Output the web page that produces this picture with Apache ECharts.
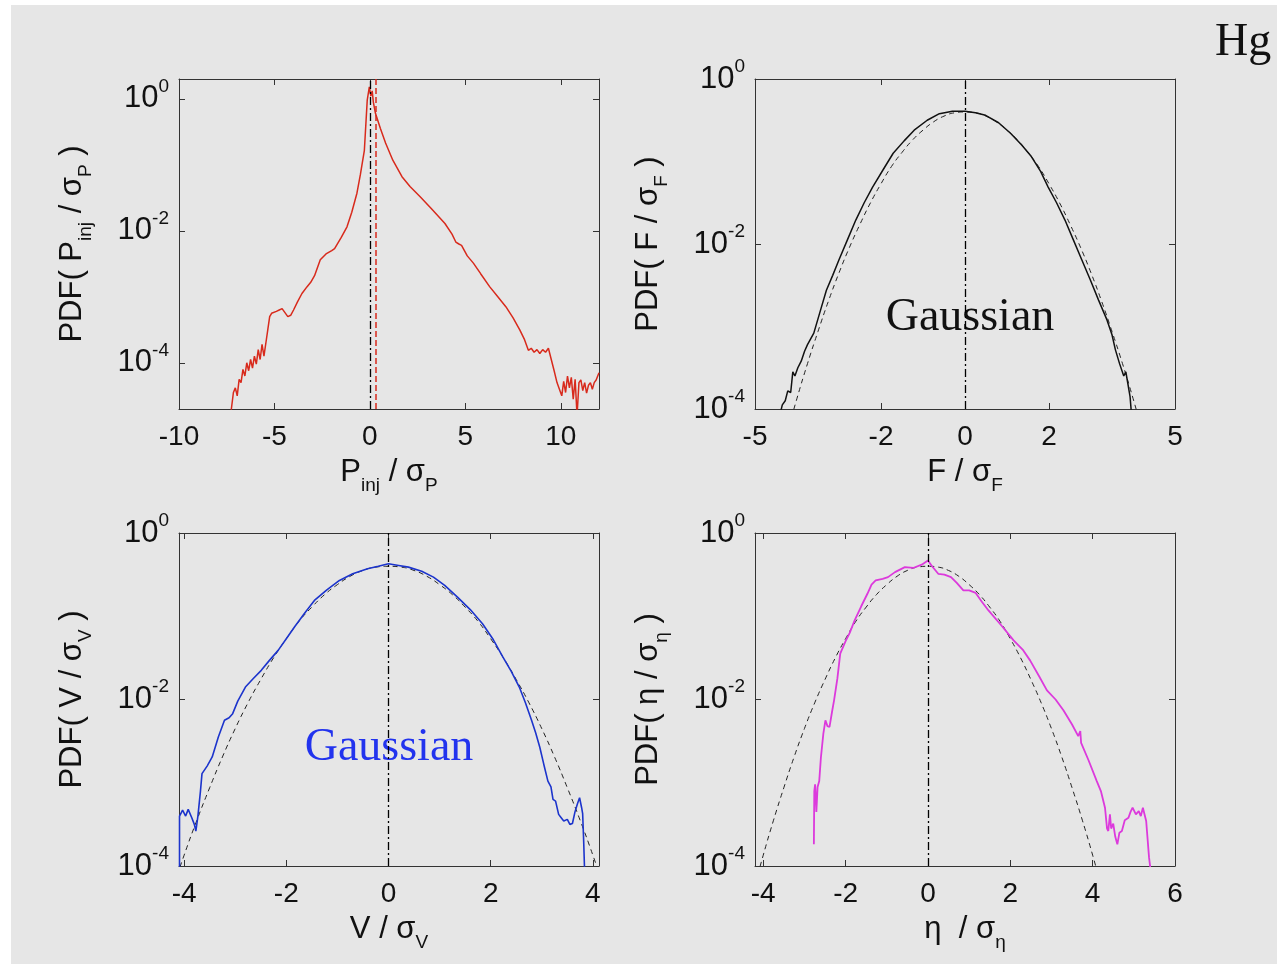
<!DOCTYPE html>
<html>
<head>
<meta charset="utf-8">
<script src="https://cdn.jsdelivr.net/npm/echarts@6/dist/echarts.min.js"></script>
<style>
  html, body { margin: 0; padding: 0; background: #fff; }
  #bg { position: absolute; left: 11px; top: 5px; width: 1266px; height: 959px; background: #e6e6e6; }
  #chart { position: absolute; left: 0; top: 0; width: 1277px; height: 964px; }
</style>
</head>
<body>
<div id="bg"></div>
<div id="chart"></div>
<script>
// all curves: [x / sigma, log10(PDF)]
var pinjCurve = [
  [-7.3,-4.8],[-7.15,-4.45],[-7.05,-4.38],[-6.95,-4.5],[-6.85,-4.25],[-6.75,-4.3],[-6.65,-4.1],[-6.55,-4.2],
  [-6.45,-4.0],[-6.35,-4.12],[-6.25,-3.95],[-6.15,-4.08],[-6.05,-3.9],[-5.95,-4.02],[-5.85,-3.8],[-5.75,-3.95],
  [-5.65,-3.72],[-5.55,-3.9],[-5.45,-3.7],[-5.35,-3.5],[-5.25,-3.3],[-5.15,-3.25],[-5.05,-3.28],[-4.9,-3.22],
  [-4.75,-3.2],[-4.6,-3.18],[-4.45,-3.24],[-4.3,-3.3],[-4.15,-3.28],[-4.0,-3.2],[-3.8,-3.08],[-3.56,-2.95],
  [-3.3,-2.85],[-3.1,-2.78],[-2.9,-2.68],[-2.6,-2.44],[-2.3,-2.35],[-2.0,-2.3],[-1.85,-2.27],[-1.5,-2.1],
  [-1.2,-1.94],[-0.95,-1.72],[-0.68,-1.43],[-0.5,-1.15],[-0.29,-0.78],[-0.14,-0.02],[-0.03,0.18],[0.05,0.04],
  [0.12,0.12],[0.18,-0.05],[0.29,-0.22],[0.55,-0.45],[0.82,-0.67],[1.2,-0.93],[1.68,-1.18],[2.1,-1.33],
  [2.62,-1.48],[3.2,-1.66],[3.93,-1.89],[4.3,-2.05],[4.5,-2.17],[4.66,-2.2],[4.8,-2.22],[5.1,-2.38],
  [5.42,-2.49],[5.8,-2.65],[6.28,-2.85],[6.7,-3.0],[7.12,-3.15],[7.5,-3.32],[7.85,-3.5],[8.1,-3.65],
  [8.3,-3.81],[8.45,-3.78],[8.6,-3.84],[8.75,-3.8],[8.9,-3.86],[9.05,-3.8],[9.2,-3.84],[9.35,-3.78],
  [9.5,-3.95],[9.65,-4.12],[9.8,-4.3],[9.95,-4.42],[10.05,-4.5],[10.15,-4.28],[10.25,-4.45],[10.35,-4.2],
  [10.45,-4.38],[10.55,-4.22],[10.65,-4.55],[10.75,-4.25],[10.85,-4.8],[10.95,-4.3],[11.05,-4.26],[11.15,-4.42],
  [11.25,-4.3],[11.35,-4.46],[11.45,-4.34],[11.55,-4.3],[11.65,-4.4],[11.75,-4.3],[11.85,-4.26],[12.0,-4.15]
];
var forceCurve = [
  [-4.42,-4.1],[-4.35,-3.95],[-4.28,-3.9],[-4.22,-3.78],[-4.15,-3.8],[-4.1,-3.55],[-4.05,-3.6],[-3.98,-3.5],
  [-3.9,-3.42],[-3.82,-3.3],[-3.75,-3.22],[-3.6,-3.08],[-3.45,-2.82],[-3.3,-2.56],[-3.15,-2.38],[-3.0,-2.19],
  [-2.8,-1.95],[-2.6,-1.71],[-2.4,-1.5],[-2.2,-1.31],[-1.95,-1.1],[-1.71,-0.9],[-1.45,-0.75],[-1.21,-0.62],
  [-0.9,-0.5],[-0.61,-0.42],[-0.3,-0.39],[0,-0.39],[0.25,-0.41],[0.49,-0.44],[0.8,-0.53],[1.09,-0.66],
  [1.35,-0.8],[1.58,-0.94],[1.8,-1.12],[1.98,-1.31],[2.18,-1.5],[2.38,-1.71],[2.58,-1.95],[2.78,-2.19],
  [2.98,-2.43],[3.18,-2.68],[3.38,-2.92],[3.5,-3.1],[3.58,-3.28],[3.68,-3.45],[3.78,-3.6],[3.83,-3.55],
  [3.88,-3.7],[3.93,-3.85],[3.97,-4.1]
];
var velocityCurve = [
  [-4.09,-4.1],[-4.09,-3.4],[-4.03,-3.33],[-3.97,-3.4],[-3.92,-3.32],[-3.85,-3.42],[-3.8,-3.5],[-3.77,-3.58],
  [-3.73,-3.4],[-3.68,-3.1],[-3.65,-2.89],[-3.55,-2.8],[-3.45,-2.69],[-3.33,-2.45],[-3.21,-2.25],[-3.12,-2.22],
  [-3.05,-2.17],[-2.95,-2.02],[-2.8,-1.85],[-2.65,-1.75],[-2.49,-1.65],[-2.33,-1.53],[-2.16,-1.41],[-2.0,-1.27],
  [-1.84,-1.13],[-1.65,-0.97],[-1.45,-0.81],[-1.2,-0.68],[-0.96,-0.57],[-0.7,-0.49],[-0.41,-0.43],[-0.2,-0.4],
  [0,-0.37],[0.2,-0.39],[0.39,-0.41],[0.65,-0.46],[0.88,-0.53],[1.1,-0.63],[1.35,-0.77],[1.6,-0.92],
  [1.84,-1.09],[2.05,-1.28],[2.24,-1.49],[2.4,-1.66],[2.56,-1.85],[2.68,-2.04],[2.8,-2.25],[2.88,-2.4],
  [2.96,-2.57],[3.04,-2.78],[3.12,-2.98],[3.18,-3.05],[3.22,-3.2],[3.27,-3.22],[3.33,-3.38],[3.38,-3.42],
  [3.43,-3.46],[3.5,-3.44],[3.55,-3.5],[3.6,-3.49],[3.65,-3.35],[3.7,-3.25],[3.74,-3.18],[3.78,-3.3],
  [3.8,-3.37],[3.82,-3.7],[3.84,-4.1]
];
var etaCurve = [
  [-2.77,-3.74],[-2.76,-3.1],[-2.74,-3.02],[-2.71,-3.35],[-2.68,-3.05],[-2.64,-2.98],[-2.6,-2.7],[-2.54,-2.41],
  [-2.49,-2.25],[-2.44,-2.32],[-2.39,-2.33],[-2.33,-2.15],[-2.28,-2.01],[-2.2,-1.75],[-2.13,-1.45],[-2.0,-1.3],
  [-1.9,-1.2],[-1.78,-1.05],[-1.62,-0.88],[-1.47,-0.73],[-1.37,-0.62],[-1.27,-0.57],[-1.1,-0.55],[-0.97,-0.53],
  [-0.8,-0.47],[-0.56,-0.41],[-0.36,-0.42],[-0.15,-0.38],[0,-0.33],[0.1,-0.4],[0.25,-0.49],[0.4,-0.5],
  [0.56,-0.53],[0.7,-0.6],[0.86,-0.69],[1.0,-0.69],[1.16,-0.72],[1.3,-0.82],[1.47,-0.93],[1.8,-1.12],
  [2.08,-1.29],[2.3,-1.4],[2.48,-1.53],[2.7,-1.72],[2.89,-1.89],[3.1,-2.0],[3.29,-2.13],[3.5,-2.3],
  [3.65,-2.44],[3.7,-2.38],[3.72,-2.52],[3.9,-2.73],[4.1,-2.98],[4.2,-3.1],[4.3,-3.3],[4.35,-3.55],
  [4.38,-3.58],[4.42,-3.38],[4.45,-3.55],[4.5,-3.49],[4.55,-3.65],[4.6,-3.74],[4.65,-3.6],[4.71,-3.58],
  [4.78,-3.45],[4.87,-3.42],[4.92,-3.35],[4.97,-3.3],[5.05,-3.38],[5.12,-3.34],[5.17,-3.4],[5.22,-3.3],
  [5.3,-3.46],[5.37,-3.9],[5.42,-4.1]
];
// dashed Gaussian reference
var gaussCurve = [
  [-4.25,-4.32],[-4,-3.87],[-3.75,-3.45],[-3.5,-3.06],[-3.25,-2.69],[-3,-2.35],[-2.75,-2.04],[-2.5,-1.76],
  [-2.25,-1.5],[-2,-1.27],[-1.75,-1.06],[-1.5,-0.89],[-1.25,-0.74],[-1,-0.62],[-0.75,-0.52],[-0.5,-0.45],
  [-0.25,-0.41],[0,-0.4],[0.25,-0.41],[0.5,-0.45],[0.75,-0.52],[1,-0.62],[1.25,-0.74],[1.5,-0.89],
  [1.75,-1.06],[2,-1.27],[2.25,-1.5],[2.5,-1.76],[2.75,-2.04],[3,-2.35],[3.25,-2.69],[3.5,-3.06],
  [3.75,-3.45],[4,-3.87],[4.25,-4.32]
];

// axes
var xRanges = [[-10, 12], [-5, 5], [-4.1, 4.12], [-4.2, 6]];
var yRanges = [[-4.7, 0.3], [-4, 0], [-4, 0], [-4, 0]];
var xTicks = [[-10, -5, 0, 5, 10], [-5, -2, 0, 2, 5], [-4, -2, 0, 2, 4], [-4, -2, 0, 2, 4, 6]];
var yTicks = [-4, -2, 0];
var xNames = ['{t|P}{u|inj}{t| / σ}{u|P}', '{t|F / σ}{u|F}', '{t|V / σ}{u|V}', '{t|η  / σ}{u|η}'];
var yNames = ['{t|PDF( P}{u|inj}{t| / σ}{u|P}{t| )}', '{t|PDF( F / σ}{u|F}{t| )}',
              '{t|PDF( V / σ}{u|V}{t| )}', '{t|PDF( η / σ}{u|η}{t| )}'];

var FONT = 'Liberation Sans, Arial, sans-serif';
var INK = '#111';
var LINE = '#333';

var nameRich = {
  t: { fontSize: 31, lineHeight: 46, fontFamily: FONT, color: INK },
  u: { fontSize: 19, lineHeight: 20, verticalAlign: 'bottom', fontFamily: FONT, color: INK }
};
var tickRich = {
  b: { fontSize: 31, lineHeight: 44, fontFamily: FONT, color: INK },
  s: { fontSize: 19, lineHeight: 20, verticalAlign: 'top', fontFamily: FONT, color: INK }
};

var grids = [
  { left: 179, top: 79, width: 420, height: 330 },
  { left: 755, top: 79, width: 420, height: 330 },
  { left: 179, top: 533, width: 420, height: 333 },
  { left: 755, top: 533, width: 420, height: 333 }
];

var xAxes = [], yAxes = [];
grids.forEach(function (g, i) {
  xAxes.push({
    type: 'value', gridIndex: i, position: 'bottom', min: xRanges[i][0], max: xRanges[i][1],
    name: xNames[i], nameLocation: 'middle', nameGap: 40,
    nameTextStyle: { rich: nameRich },
    axisLine: { onZero: false, lineStyle: { color: LINE, width: 1 } },
    axisTick: { inside: true, length: 6, customValues: xTicks[i], lineStyle: { color: LINE } },
    axisLabel: { customValues: xTicks[i], margin: 14, fontSize: 28, fontFamily: FONT, color: INK },
    splitLine: { show: false }
  });
  xAxes.push({
    type: 'value', gridIndex: i, position: 'top', min: xRanges[i][0], max: xRanges[i][1],
    axisLine: { onZero: false, lineStyle: { color: LINE, width: 1 } },
    axisTick: { inside: true, length: 6, customValues: xTicks[i], lineStyle: { color: LINE } },
    axisLabel: { show: false },
    splitLine: { show: false }
  });
  yAxes.push({
    type: 'value', gridIndex: i, position: 'left', min: yRanges[i][0], max: yRanges[i][1],
    name: yNames[i], nameLocation: 'middle', nameGap: 84, nameRotate: 90,
    nameTextStyle: { rich: nameRich },
    axisLine: { show: true, onZero: false, lineStyle: { color: LINE, width: 1 } },
    axisTick: { show: true, inside: true, length: 6, customValues: yTicks, lineStyle: { color: LINE } },
    axisLabel: {
      customValues: yTicks, margin: 10,
      formatter: function (v) { return '{b|10}{s|' + v + '}'; },
      rich: tickRich
    },
    splitLine: { show: false }
  });
  yAxes.push({
    type: 'value', gridIndex: i, position: 'right', min: yRanges[i][0], max: yRanges[i][1],
    axisLine: { show: true, onZero: false, lineStyle: { color: LINE, width: 1 } },
    axisTick: { show: true, inside: true, length: 6, customValues: yTicks, lineStyle: { color: LINE } },
    axisLabel: { show: false },
    splitLine: { show: false }
  });
});

function zeroLine(extra) {
  var data = [{ xAxis: 0, lineStyle: { color: '#000', width: 1.3, type: [8, 3, 2, 3] } }];
  if (extra) data.push(extra);
  return { silent: true, symbol: ['none', 'none'], label: { show: false }, data: data };
}

function curve(i, data, color, width, marks) {
  var s = {
    type: 'line', xAxisIndex: 2 * i, yAxisIndex: 2 * i, data: data,
    showSymbol: false, clip: true,
    lineStyle: { color: color, width: width }
  };
  if (marks) s.markLine = marks;
  return s;
}

function gauss(i) {
  return {
    type: 'line', xAxisIndex: 2 * i, yAxisIndex: 2 * i, data: gaussCurve,
    showSymbol: false, clip: true, smooth: true,
    lineStyle: { color: '#222', width: 1, type: [5, 4] }
  };
}

var series = [
  curve(0, pinjCurve, '#d82a1c', 1.5,
    zeroLine({ xAxis: 0.3, lineStyle: { color: '#d82a1c', width: 1.5, type: [6, 3] } })),
  gauss(1),
  curve(1, forceCurve, '#111', 1.5, zeroLine()),
  gauss(2),
  curve(2, velocityCurve, '#1c34cc', 1.6, zeroLine()),
  gauss(3),
  curve(3, etaCurve, '#dc3adc', 1.8, zeroLine())
];

var chart = echarts.init(document.getElementById('chart'), null, { renderer: 'canvas' });
chart.setOption({
  backgroundColor: 'transparent',
  animation: false,
  grid: grids,
  xAxis: xAxes,
  yAxis: yAxes,
  series: series,
  graphic: [
    { type: 'text', left: 1215, top: 20,
      style: { text: 'Hg', font: '46px "Liberation Serif", "Times New Roman", serif', fill: INK } },
    { type: 'text', x: 970, y: 318,
      style: { text: 'Gaussian', font: '46px "Liberation Serif", "Times New Roman", serif', fill: INK,
               align: 'center', verticalAlign: 'middle' } },
    { type: 'text', x: 389, y: 748,
      style: { text: 'Gaussian', font: '46px "Liberation Serif", "Times New Roman", serif', fill: '#2233ee',
               align: 'center', verticalAlign: 'middle' } }
  ]
});
</script>
</body>
</html>
